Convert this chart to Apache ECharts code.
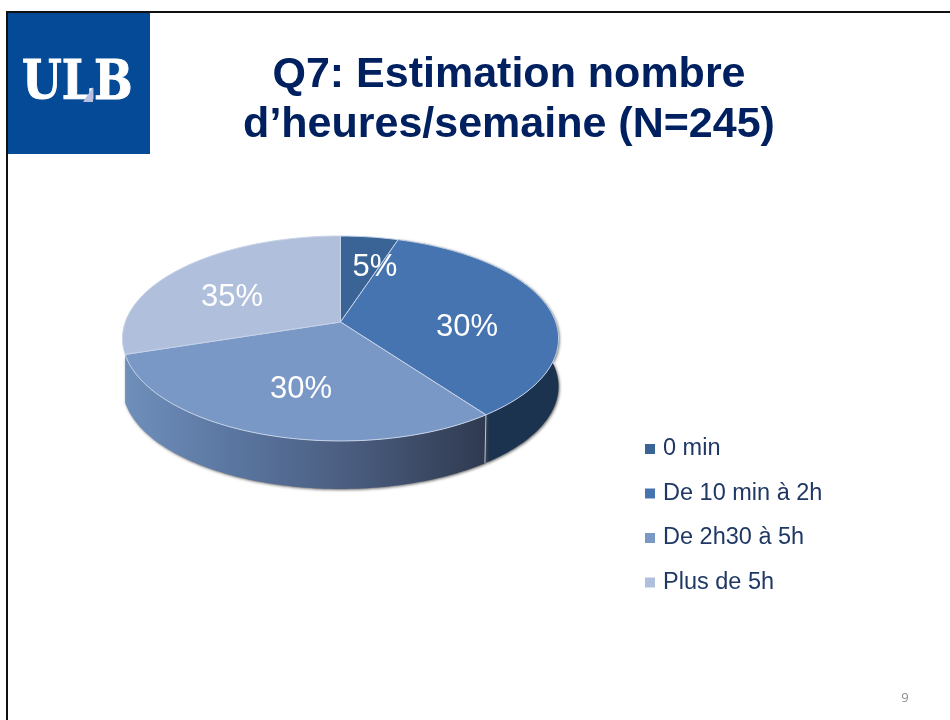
<!DOCTYPE html>
<html>
<head>
<meta charset="utf-8">
<title>Q7</title>
<script src="https://cdn.jsdelivr.net/npm/echarts@6/dist/echarts.min.js"></script>
<style>
  html, body { margin: 0; padding: 0; background: #fff; }
  #main { width: 950px; height: 720px; }
</style>
</head>
<body>
<div id="main"></div>
<script>
const categories = ['0 min', 'De 10 min à 2h', 'De 2h30 à 5h', 'Plus de 5h'];
// what is printed on the slices
const printedPercent = [5, 30, 30, 35];
// size of the slices as drawn, the picture does not follow its own labels
const drawnPercent = [5, 35, 30, 30];
const topColors = ['#3a6496', '#4674b0', '#7a98c6', '#b0bfdc'];

// tilted pie: homography of the unit circle, apex is the circle centre
const apexX = 340.5, apexY = 322;
const scaleX = 215.2, scaleY = 99.8, tilt = 0.161;
const depth = 48;
const labelAt = [[375, 267], [467, 327.5], [301, 389], [232, 297]];

// only the two front slices show a wall
const wallColors = [
    null,
    '#1c3350',
    new echarts.graphic.LinearGradient(0, 0, 1, 0, [
        {offset: 0, color: '#6f8fbb'},
        {offset: 0.3, color: '#5a76a0'},
        {offset: 0.6, color: '#4c5f82'},
        {offset: 1, color: '#2f3a50'}
    ]),
    null
];

function project(pct, r) {
    const t = pct / 100 * 2 * Math.PI;
    const x = r * Math.sin(t), y = -r * Math.cos(t);
    const w = 1 - tilt * y;
    return [apexX + scaleX * x / w, apexY + scaleY * y / w];
}

function arcPoints(from, to) {
    const pts = [];
    const steps = Math.ceil((to - from) * 3);
    for (let i = 0; i <= steps; i++) {
        pts.push(project(from + (to - from) * i / steps, 1));
    }
    return pts;
}

function sliceRenderer(index) {
    return function (params, api) {
        const from = api.value(0), to = api.value(1);
        const arc = arcPoints(from, to);
        const lower = arc.map(p => [p[0], p[1] + depth]).reverse();
        const children = [{
            type: 'polygon',
            z2: 3,
            shape: {points: [[apexX, apexY]].concat(arc)},
            style: {fill: topColors[index], stroke: '#c6d3e8', lineWidth: 1}
        }, {
            type: 'text',
            z2: 4,
            style: {
                x: labelAt[index][0],
                y: labelAt[index][1],
                text: printedPercent[index] + '%',
                fill: '#fff',
                font: '31px "Liberation Sans", Arial, sans-serif',
                align: 'center',
                verticalAlign: 'middle'
            }
        }];
        if (wallColors[index]) {
            children.push({
                type: 'polygon',
                z2: 1,
                shape: {points: arc.concat(lower)},
                style: {
                    fill: wallColors[index],
                    shadowColor: 'rgba(80,80,80,0.85)',
                    shadowBlur: 3,
                    shadowOffsetX: 1,
                    shadowOffsetY: 1
                }
            });
        }
        // light edge only where a slice starts on the front of the wall
        if (from > 25 && from < 50) {
            const s = arc[0];
            children.push({
                type: 'line',
                z2: 2,
                shape: {x1: s[0], y1: s[1], x2: s[0] - 1, y2: s[1] + depth},
                style: {stroke: '#b9c7dc', lineWidth: 1}
            });
        }
        return {type: 'group', children: children};
    };
}

let running = 0;
const series = categories.map(function (name, i) {
    const from = running;
    running += drawnPercent[i];
    return {
        type: 'custom',
        name: name,
        coordinateSystem: 'none',
        silent: true,
        itemStyle: {color: topColors[i]},
        renderItem: sliceRenderer(i),
        data: [[from, running]]
    };
});

const chart = echarts.init(document.getElementById('main'), null, {renderer: 'canvas'});
chart.setOption({
    animation: false,
    backgroundColor: '#fff',
    legend: {
        orient: 'vertical',
        left: 645,
        top: 437,
        padding: 0,
        icon: 'rect',
        itemWidth: 10,
        itemHeight: 10,
        itemGap: 20.5,
        selectedMode: false,
        textStyle: {
            color: '#1f3864',
            fontFamily: '"Liberation Sans", Arial, sans-serif',
            fontSize: 23.5,
            padding: [0, 0, 0, 3]
        },
        data: categories
    },
    series: series,
    graphic: [
        {type: 'rect', shape: {x: 6, y: 11, width: 944, height: 2}, style: {fill: '#111'}},
        {type: 'rect', shape: {x: 6, y: 11, width: 2, height: 709}, style: {fill: '#111'}},
        {type: 'rect', shape: {x: 8, y: 13, width: 142, height: 141}, style: {fill: '#044a96'}},
        {
            type: 'text',
            x: 22, y: 85,
            scaleX: 0.83,
            style: {
                text: 'ULB',
                fill: '#fff',
                stroke: '#fff',
                lineWidth: 1,
                font: 'bold 55px "DejaVu Serif", serif',
                align: 'left',
                verticalAlign: 'middle'
            }
        },
        {
            type: 'polygon',
            shape: {points: [[83, 102], [93, 102], [93, 87]]},
            style: {fill: '#b9bfe0'}
        },
        {
            type: 'text',
            style: {
                x: 509, y: 100.5,
                text: 'Q7: Estimation nombre\nd’heures/semaine (N=245)',
                fill: '#002060',
                font: 'bold 43px "Liberation Sans", Arial, sans-serif',
                lineHeight: 50,
                align: 'center',
                verticalAlign: 'middle'
            }
        },
        {
            type: 'text',
            style: {
                x: 905, y: 698,
                text: '9',
                fill: '#8c8c8c',
                font: '13px "Open Sans", sans-serif',
                align: 'center',
                verticalAlign: 'middle'
            }
        }
    ]
});
</script>
</body>
</html>
